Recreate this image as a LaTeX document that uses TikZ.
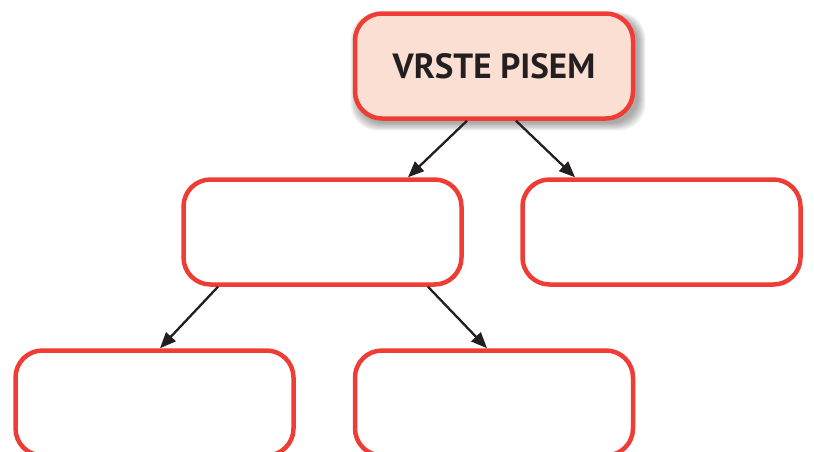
\documentclass[tikz,border=0pt]{standalone}
\usepackage{fontspec}
\setmainfont{PT Sans}
\usetikzlibrary{arrows.meta}
\definecolor{boxred}{HTML}{EF3D35}
\definecolor{boxfill}{HTML}{FCDFD3}
\definecolor{arrowblack}{HTML}{231F20}
\tikzset{
  box/.style={draw=boxred, line width=4.5pt, rounded corners=27pt,
    minimum width=278pt, minimum height=105pt, fill=white, inner sep=0pt},
  topbox/.style={box, fill=boxfill, font=\bfseries\fontsize{35}{40}\selectfont, text=arrowblack},
  arr/.style={draw=arrowblack, line width=2.3pt, -{Triangle[length=16pt,width=13pt]}}
}
\begin{document}
\begin{tikzpicture}[x=1pt,y=-1pt]
\useasboundingbox (0,0) rectangle (814,451);
\clip (0,0) rectangle (814,451);
% shadow of the top box
\foreach \i in {1,...,9}{
  \fill[black, opacity=0.045, rounded corners=27pt]
    (355.5+3-\i*0.9, 13.5+4-\i*0.6) rectangle (634.5+3+\i*0.9, 118.5+4+\i*0.9);
}
\node[topbox] (top) at (494,66) {VRSTE PISEM};
\node[box] (ml) at (322.5,232) {};
\node[box] (mr) at (661.5,232) {};
\node[box] (bl) at (154.5,403) {};
\node[box] (br) at (494,403) {};
\draw[arr] ([xshift=-27pt]top.south) -- ([xshift=85.5pt]ml.north);
\draw[arr] ([xshift=22pt]top.south) -- ([xshift=-86.5pt]mr.north);
\draw[arr] ([xshift=-104.5pt]ml.south) -- ([xshift=5.5pt]bl.north);
\draw[arr] ([xshift=105.5pt]ml.south) -- ([xshift=-7pt]br.north);
\end{tikzpicture}
\end{document}
